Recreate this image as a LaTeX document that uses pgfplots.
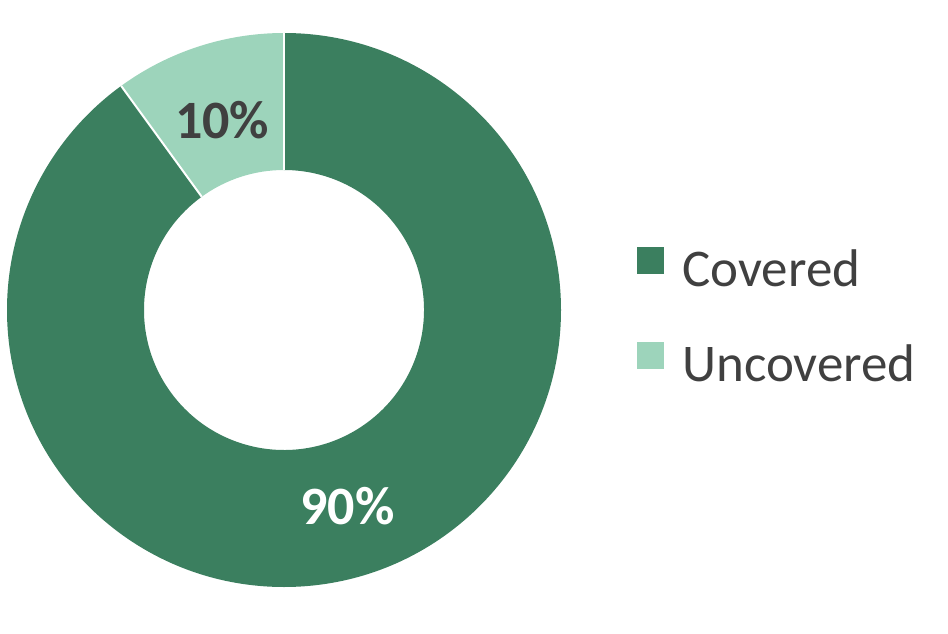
\documentclass[border=0pt]{standalone}
\usepackage{fontspec}
\setmainfont{Carlito}
\usepackage{pgfplots}
\usepackage{pgfplotstable}
\pgfplotsset{compat=1.18}
\usetikzlibrary{calc}

\definecolor{covered}{HTML}{3B7F5F}
\definecolor{uncovered}{HTML}{9DD4BB}
\definecolor{txt}{HTML}{404040}

\pgfplotstableread{
label value
Covered 90
Uncovered 10
}\datatable

\begin{document}
\begin{tikzpicture}
% values and angles (start at 12 o'clock, clockwise)
\pgfplotstablegetelem{0}{value}\of\datatable \let\vA\pgfplotsretval
\pgfplotstablegetelem{1}{value}\of\datatable \let\vB\pgfplotsretval
\pgfmathsetmacro\total{\vA+\vB}
\pgfmathsetmacro\fA{\vA/\total}
\pgfmathsetmacro\fB{\vB/\total}
\pgfmathsetmacro\aS{90}
\pgfmathsetmacro\aA{90-360*\fA}
\pgfmathsetmacro\aB{\aA-360*\fB}
\pgfmathsetmacro\mA{(\aS+\aA)/2}
\pgfmathsetmacro\mB{(\aA+\aB)/2}
\pgfmathtruncatemacro\pA{round(100*\fA)}
\pgfmathtruncatemacro\pB{round(100*\fB)}
\def\cx{284}\def\cy{323}\def\R{277}\def\r{140}
\begin{axis}[
  scale only axis,
  width=474pt, height=316.5pt,
  xmin=0, xmax=948, ymin=0, ymax=633,
  hide axis, clip=false,
  legend style={draw=none, fill=none, at={(axis cs:637,316)}, anchor=west,
    font=\fontsize{26.5}{31}\selectfont, text=txt,
    row sep=23.5pt, column sep=7pt, inner sep=0pt},
  legend cell align=left,
  legend image code/.code={\fill[#1, draw=none] (0,-0.23em) rectangle (13.5pt,\dimexpr13.5pt-0.23em\relax);},
]
\path (rel axis cs:0,0) rectangle (rel axis cs:1,1);
\addlegendimage{fill=covered}
\addlegendentry{Covered}
\addlegendimage{fill=uncovered}
\addlegendentry{Uncovered}

\fill[covered] (axis cs:\cx,\cy) ++(\aS:\R) arc[start angle=\aS, end angle=\aA, radius=\R]
  -- ($(axis cs:\cx,\cy)+(\aA:\r)$) arc[start angle=\aA, end angle=\aS, radius=\r] -- cycle;
\fill[uncovered] (axis cs:\cx,\cy) ++(\aA:\R) arc[start angle=\aA, end angle=\aB, radius=\R]
  -- ($(axis cs:\cx,\cy)+(\aB:\r)$) arc[start angle=\aB, end angle=\aA, radius=\r] -- cycle;
\draw[white, line width=1pt] ($(axis cs:\cx,\cy)+(\aS:\r)$) -- ($(axis cs:\cx,\cy)+(\aS:\R)$);
\draw[white, line width=1pt] ($(axis cs:\cx,\cy)+(\aA:\r)$) -- ($(axis cs:\cx,\cy)+(\aA:\R)$);

\node[font=\fontsize{27}{32}\selectfont\bfseries, text=white]
  at ($(axis cs:\cx,\cy)+(\mA:206)$) {\pA\%};
\node[font=\fontsize{27}{32}\selectfont\bfseries, text=txt]
  at ($(axis cs:\cx,\cy)+(\mB:200)$) {\pB\%};
\end{axis}
\end{tikzpicture}
\end{document}
